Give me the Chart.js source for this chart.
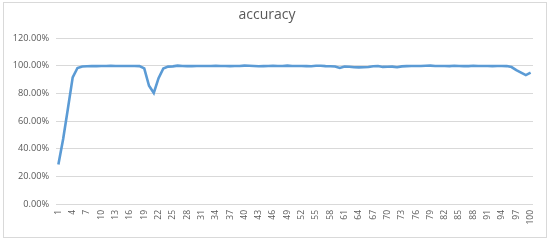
<!DOCTYPE html>
<html>
<head>
<meta charset="utf-8">
<script src="https://cdn.jsdelivr.net/npm/chart.js@4"></script>
<style>
    html, body { margin: 0; padding: 0; background: #fff; }
    #wrap { position: relative; width: 550px; height: 243px; }
    #frame {
        position: absolute; left: 3px; top: 2px; width: 542px; height: 234px;
        border: 1px solid #d9d9d9; pointer-events: none;
    }
    canvas { position: absolute; left: 0; top: 0; }
</style>
</head>
<body>
<div id="wrap">
    <canvas id="accChart" width="550" height="243"></canvas>
    <div id="frame"></div>
</div>
<script>
/* ===============================
   DATA
=================================*/

const chartTitle = "accuracy";

const epochs = [
    1, 2, 3, 4, 5, 6, 7, 8, 9, 10,
    11, 12, 13, 14, 15, 16, 17, 18, 19, 20,
    21, 22, 23, 24, 25, 26, 27, 28, 29, 30,
    31, 32, 33, 34, 35, 36, 37, 38, 39, 40,
    41, 42, 43, 44, 45, 46, 47, 48, 49, 50,
    51, 52, 53, 54, 55, 56, 57, 58, 59, 60,
    61, 62, 63, 64, 65, 66, 67, 68, 69, 70,
    71, 72, 73, 74, 75, 76, 77, 78, 79, 80,
    81, 82, 83, 84, 85, 86, 87, 88, 89, 90,
    91, 92, 93, 94, 95, 96, 97, 98, 99, 100
];

// accuracy in percent
const accuracy = [
    28.5, 47.0, 69.0, 91.5, 98.3, 99.4, 99.6, 99.7, 99.7, 99.8,
    99.8, 99.9, 99.8, 99.8, 99.8, 99.8, 99.8, 99.7, 98.0, 85.5,
    80.3, 91.0, 98.0, 99.3, 99.5, 100.0, 99.8, 99.7, 99.7, 99.8,
    99.8, 99.8, 99.8, 99.9, 99.8, 99.8, 99.7, 99.8, 99.8, 100.0,
    99.9, 99.8, 99.6, 99.7, 99.8, 99.9, 99.8, 99.8, 100.0, 99.8,
    99.8, 99.8, 99.7, 99.6, 99.9, 99.9, 99.7, 99.6, 99.4, 98.4,
    99.4, 99.2, 98.9, 98.8, 98.9, 99.0, 99.6, 99.7, 99.1, 99.2,
    99.3, 98.9, 99.5, 99.7, 99.8, 99.8, 99.8, 99.9, 100.0, 99.8,
    99.8, 99.8, 99.7, 99.9, 99.8, 99.7, 99.7, 99.9, 99.8, 99.8,
    99.8, 99.7, 99.8, 99.8, 99.7, 99.0, 96.8, 95.0, 93.2, 95.0
];

const yTicks = [0, 20, 40, 60, 80, 100, 120];

/* ===============================
   CHART
=================================*/

const FONT = "'Open Sans', 'Liberation Sans', sans-serif";
const TEXT_COLOR = "#595959";

const titlePlugin = {
    id: "excelTitle",
    afterDraw(chart) {
        const c = chart.ctx;
        c.save();
        c.font = "14px " + FONT;
        c.fillStyle = TEXT_COLOR;
        c.textAlign = "center";
        c.textBaseline = "middle";
        c.fillText(chartTitle, 267, 15);
        c.restore();
    }
};

new Chart(document.getElementById("accChart"), {
    type: "line",
    data: {
        labels: epochs,
        datasets: [{
            label: chartTitle,
            data: accuracy,
            borderColor: "#5b9bd5",
            borderWidth: 2.6,
            pointRadius: 0,
            tension: 0,
            fill: false
        }]
    },
    options: {
        responsive: false,
        animation: false,
        layout: { padding: { top: 38, right: 17, bottom: 0, left: 0 } },
        plugins: {
            legend: { display: false },
            title: { display: false },
            tooltip: { enabled: false }
        },
        scales: {
            x: {
                offset: true,
                grid: { display: false, drawTicks: false },
                border: { display: false },
                afterFit(scale) { scale.height = 39; },
                ticks: {
                    autoSkip: false,
                    minRotation: 90,
                    maxRotation: 90,
                    padding: 6,
                    color: TEXT_COLOR,
                    font: { family: FONT, size: 8.5 },
                    callback(val, i) { return i % 3 === 0 ? epochs[i] : ""; }
                }
            },
            y: {
                min: 0,
                max: 120,
                afterFit(scale) { scale.width = 56; },
                afterBuildTicks(scale) {
                    scale.ticks = yTicks.map(v => ({ value: v }));
                },
                grid: { color: "#d9d9d9", lineWidth: 1, drawTicks: false },
                border: { display: false },
                ticks: {
                    padding: 7,
                    color: TEXT_COLOR,
                    font: { family: FONT, size: 9.2 },
                    callback(v) { return v.toFixed(2) + "%"; }
                }
            }
        }
    },
    plugins: [titlePlugin]
});
</script>
</body>
</html>
